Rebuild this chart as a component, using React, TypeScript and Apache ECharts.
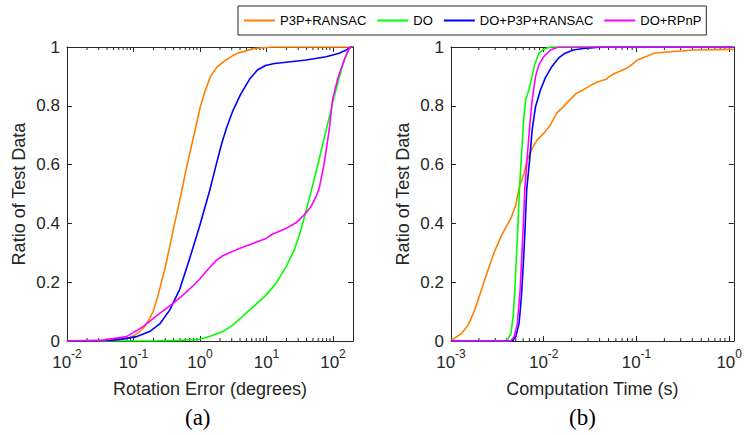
import React, { useEffect, useRef } from 'react';
import * as echarts from 'echarts';

const seriesNames = ['P3P+RANSAC', 'DO', 'DO+P3P+RANSAC', 'DO+RPnP'];
const seriesColors = ['#FF8000', '#00FF00', '#0000FF', '#FF00FF'];

// (a) Rotation error (degrees) vs ratio
const rotP3P: number[][] = [
  [0.01, 0], [0.04, 0.001], [0.062, 0.005], [0.085, 0.01], [0.105, 0.02], [0.125, 0.033], [0.148, 0.05],
  [0.17, 0.072], [0.197, 0.1], [0.228, 0.145], [0.263, 0.2], [0.3, 0.25], [0.335, 0.3], [0.416, 0.4],
  [0.52, 0.5], [0.641, 0.6], [0.81, 0.7], [1.02, 0.8], [1.195, 0.85], [1.44, 0.9], [1.77, 0.93],
  [2.26, 0.95], [3.08, 0.97], [3.79, 0.98], [6.6, 0.995], [12, 1], [200, 1],
];
const rotDO: number[][] = [
  [0.01, 0], [0.2, 0], [0.5, 0.002], [0.986, 0.006], [1.39, 0.015], [2.2, 0.032], [3.11, 0.054],
  [4.4, 0.085], [6.6, 0.12], [9.87, 0.156], [13.9, 0.196], [19.7, 0.253], [26.2, 0.31],
  [31.2, 0.36], [37, 0.42], [44, 0.485], [52.3, 0.55], [62.1, 0.62], [73.8, 0.69],
  [87.7, 0.76], [104, 0.83], [124, 0.895], [147, 0.955], [175, 0.995], [187, 1], [200, 1],
];
const rotDOP3P: number[][] = [
  [0.01, 0], [0.03, 0.0005], [0.049, 0.003], [0.0741, 0.008], [0.112, 0.015], [0.175, 0.032],
  [0.248, 0.058], [0.35, 0.105], [0.494, 0.175], [0.698, 0.28], [0.986, 0.39], [1.393, 0.51],
  [1.754, 0.6], [2.11, 0.67], [2.51, 0.725], [3.08, 0.78], [4.06, 0.838], [5.55, 0.89],
  [7.31, 0.922], [9.64, 0.937], [13.2, 0.944], [19.9, 0.948], [39.6, 0.956], [79, 0.967],
  [124, 0.979], [158, 0.99], [187, 1], [200, 1],
];
const rotDORPnP: number[][] = [
  [0.01, 0], [0.035, 0.003], [0.0785, 0.015], [0.139, 0.049], [0.248, 0.094], [0.393, 0.128],
  [0.548, 0.155], [0.78, 0.187], [0.986, 0.21], [1.393, 0.25], [1.775, 0.275], [2.2, 0.29],
  [2.78, 0.3], [3.5, 0.31], [6.2, 0.332], [9.87, 0.349], [12.4, 0.364], [19.7, 0.383],
  [27.8, 0.402], [37, 0.429], [46.6, 0.457], [55.5, 0.49], [62.1, 0.52], [73.8, 0.604],
  [87.7, 0.718], [98.4, 0.82], [117, 0.89], [139, 0.94], [165, 0.983], [181, 1], [200, 1],
];

// (b) Computation time (s) vs ratio
const timeP3P: number[][] = [
  [0.001, 0], [0.00102, 0.003], [0.0013, 0.026], [0.00153, 0.054], [0.0018, 0.105], [0.00212, 0.173],
  [0.0025, 0.241], [0.00294, 0.304], [0.0036, 0.366], [0.00442, 0.417], [0.005, 0.463],
  [0.00542, 0.52], [0.00612, 0.57], [0.00664, 0.616], [0.00751, 0.655], [0.0085, 0.684],
  [0.01, 0.706], [0.0118, 0.735], [0.0138, 0.775], [0.0157, 0.792], [0.0177, 0.809], [0.02, 0.826],
  [0.0226, 0.843], [0.0267, 0.854], [0.0314, 0.868], [0.0385, 0.882], [0.0471, 0.89], [0.0512, 0.9],
  [0.058, 0.91], [0.074, 0.924], [0.0836, 0.933], [0.0946, 0.947], [0.1025, 0.956], [0.131, 0.969],
  [0.154, 0.979], [0.232, 0.984], [0.411, 0.99], [1.12, 0.992],
];
const timeDO: number[][] = [
  [0.001, 0], [0.004, 0], [0.00443, 0.026], [0.00468, 0.083], [0.00487, 0.17], [0.00507, 0.287],
  [0.00528, 0.4], [0.00546, 0.514], [0.00574, 0.627], [0.00603, 0.74], [0.00638, 0.82],
  [0.00692, 0.854], [0.0075, 0.9], [0.00796, 0.939], [0.00885, 0.979], [0.01, 0.992],
  [0.0118, 1], [1.12, 1],
];
const timeDOP3P: number[][] = [
  [0.001, 0], [0.0046, 0], [0.005, 0.015], [0.00542, 0.06], [0.00574, 0.15], [0.00603, 0.264],
  [0.00628, 0.378], [0.00655, 0.514], [0.0071, 0.627], [0.0075, 0.718], [0.00816, 0.797],
  [0.00922, 0.854], [0.0104, 0.895], [0.0122, 0.933], [0.0144, 0.962], [0.017, 0.979],
  [0.0208, 0.99], [0.0267, 0.995], [0.034, 0.998], [0.045, 1], [1.12, 1],
];
const timeDORPnP: number[][] = [
  [0.001, 0], [0.0044, 0], [0.0048, 0.015], [0.0052, 0.06], [0.00556, 0.173], [0.0058, 0.287],
  [0.00603, 0.4], [0.00624, 0.514], [0.00664, 0.627], [0.0071, 0.74], [0.0075, 0.82],
  [0.00816, 0.9], [0.00885, 0.939], [0.01, 0.967], [0.0118, 0.99], [0.0144, 1], [1.12, 1],
];

const leftRange = [0.01, 200];
const rightRange = [0.001, 1.12];
const yTickValues = [0, 0.2, 0.4, 0.6, 0.8, 1];

const FONT = '"Liberation Sans", Arial, Helvetica, sans-serif';
const AX = '#262626';

function minorTickValues(min: number, max: number): number[][] {
  const out: number[][] = [];
  for (let k = Math.floor(Math.log10(min)); k <= Math.ceil(Math.log10(max)); k++) {
    for (let m = 2; m <= 9; m++) {
      const v = m * Math.pow(10, k);
      if (v > min && v < max) out.push([v, 0]);
    }
  }
  return out;
}

const supFmt = (v: number) => {
  const e = Math.log10(v);
  const r = Math.round(e);
  if (Math.abs(e - r) > 1e-6) return '';
  return `{b|10}{s|${r}}`;
};

function xAxes(grid: number, range: number[], name: string) {
  const common = {
    gridIndex: grid,
    type: 'log' as const,
    logBase: 10,
    min: range[0],
    max: range[1],
    splitLine: { show: false },
    axisLine: { show: true, onZero: false, lineStyle: { color: AX, width: 1 } },
    axisTick: { show: true, inside: true, length: 5, lineStyle: { color: AX } },
  };
  return [
    {
      ...common,
      position: 'bottom',
      name,
      nameLocation: 'middle',
      nameGap: 39,
      nameTextStyle: { fontSize: 18, color: AX, fontFamily: FONT },
      axisLabel: {
        formatter: supFmt,
        margin: 7,
        color: AX,
        fontFamily: FONT,
        fontSize: 17,
        rich: {
          b: { fontSize: 17, color: AX, fontFamily: FONT, padding: [6, 0, 0, 0], verticalAlign: 'bottom' },
          s: { fontSize: 12, color: AX, fontFamily: FONT, verticalAlign: 'top' },
        },
      },
    },
    { ...common, position: 'top', axisLabel: { show: false } },
  ];
}

function yAxes(grid: number) {
  const common = {
    gridIndex: grid,
    type: 'value' as const,
    min: yTickValues[0],
    max: yTickValues[yTickValues.length - 1],
    interval: 0.2,
    splitLine: { show: false },
    axisLine: { show: true, onZero: false, lineStyle: { color: AX, width: 1 } },
    axisTick: { show: true, inside: true, length: 5, lineStyle: { color: AX } },
  };
  return [
    {
      ...common,
      position: 'left',
      name: 'Ratio of Test Data',
      nameLocation: 'middle',
      nameGap: 39,
      nameTextStyle: { fontSize: 18, color: AX, fontFamily: FONT },
      axisLabel: { color: AX, fontSize: 17, fontFamily: FONT, margin: 7 },
    },
    { ...common, position: 'right', axisLabel: { show: false } },
  ];
}

function minorSeries(xIdx: number, yIdx: number, range: number[]) {
  return {
    type: 'custom',
    xAxisIndex: xIdx,
    yAxisIndex: yIdx,
    silent: true,
    clip: false,
    z: 1,
    encode: { x: 0, y: 1 },
    data: minorTickValues(range[0], range[1]),
    renderItem: (params: any, api: any) => {
      const v = api.value(0);
      const b = api.coord([v, 0]);
      const t = api.coord([v, 1]);
      const st = { stroke: AX, lineWidth: 1 };
      return {
        type: 'group',
        children: [
          { type: 'line', shape: { x1: b[0], y1: b[1], x2: b[0], y2: b[1] - 3 }, style: st },
          { type: 'line', shape: { x1: t[0], y1: t[1], x2: t[0], y2: t[1] + 3 }, style: st },
        ],
      };
    },
  };
}

function lineSeries(name: string, color: string, data: number[][], xIdx: number, yIdx: number) {
  return {
    type: 'line',
    name,
    xAxisIndex: xIdx,
    yAxisIndex: yIdx,
    data,
    symbol: 'none',
    showSymbol: false,
    smooth: false,
    z: 3,
    lineStyle: { color, width: 1.6, join: 'round' },
    itemStyle: { color },
  };
}

export default function App() {
  const ref = useRef<HTMLDivElement>(null);
  useEffect(() => {
    if (!ref.current) return;
    const chart = echarts.init(ref.current, null, { renderer: 'svg' });
    const leftData = [rotP3P, rotDO, rotDOP3P, rotDORPnP];
    const rightData = [timeP3P, timeDO, timeDOP3P, timeDORPnP];
    const option: any = {
      animation: false,
      backgroundColor: '#ffffff',
      textStyle: { fontFamily: FONT },
      legend: {
        data: seriesNames,
        icon: 'rect',
        left: 238,
        top: 6,
        itemWidth: 31,
        itemHeight: 2,
        itemGap: 11,
        padding: [7, 5, 7, 6],
        borderColor: AX,
        borderWidth: 1,
        backgroundColor: '#ffffff',
        textStyle: { fontSize: 13, lineHeight: 15, color: '#000', fontFamily: FONT },
      },
      grid: [
        { left: 67, top: 47, width: 286, height: 294, containLabel: false },
        { left: 451, top: 47, width: 286, height: 294, containLabel: false },
      ],
      xAxis: [
        ...xAxes(0, leftRange, 'Rotation Error (degrees)'),
        ...xAxes(1, rightRange, 'Computation Time (s)'),
      ],
      yAxis: [...yAxes(0), ...yAxes(1)],
      series: [
        minorSeries(0, 0, leftRange),
        minorSeries(2, 2, rightRange),
        ...seriesNames.map((n, i) => lineSeries(n, seriesColors[i], leftData[i], 0, 0)),
        ...seriesNames.map((n, i) => lineSeries(n, seriesColors[i], rightData[i], 2, 2)),
      ],
      graphic: [
        { type: 'text', left: 185, top: 406, style: { text: '(a)', font: '23px "Liberation Serif", "Times New Roman", serif', fill: '#000' } },
        { type: 'text', left: 569, top: 406, style: { text: '(b)', font: '23px "Liberation Serif", "Times New Roman", serif', fill: '#000' } },
      ],
    };
    chart.setOption(option);
    return () => chart.dispose();
  }, []);
  return (
    <div
      ref={ref}
      style={{ position: 'absolute', left: 0, top: 0, width: 745, height: 435, background: '#fff' }}
    />
  );
}
